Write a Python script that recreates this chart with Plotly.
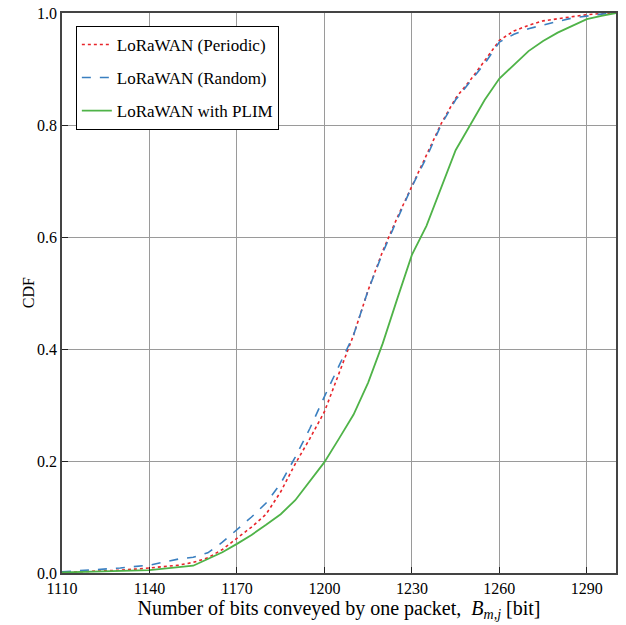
import plotly.graph_objects as go

# bits conveyed by one packet
bits = [1110, 1120, 1130, 1140, 1145, 1150, 1155, 1160, 1165, 1170, 1175, 1180,
        1185, 1190, 1195, 1200, 1205, 1210, 1215, 1220, 1225, 1230, 1235, 1240,
        1245, 1250, 1255, 1260, 1265, 1270, 1275, 1280, 1285, 1290, 1295, 1300]

cdf_periodic = [0.001, 0.003, 0.005, 0.009, 0.011, 0.014, 0.019, 0.027, 0.042, 0.062, 0.082, 0.105,
                0.145, 0.195, 0.24, 0.288, 0.355, 0.425, 0.505, 0.575, 0.635, 0.69, 0.745, 0.802,
                0.848, 0.88, 0.915, 0.951, 0.968, 0.978, 0.986, 0.99, 0.994, 0.997, 0.999, 1.0]

cdf_random = [0.002, 0.005, 0.009, 0.014, 0.02, 0.025, 0.028, 0.036, 0.055, 0.077, 0.1, 0.125,
              0.16, 0.207, 0.258, 0.315, 0.37, 0.425, 0.505, 0.572, 0.632, 0.69, 0.742, 0.8,
              0.845, 0.878, 0.91, 0.948, 0.962, 0.972, 0.979, 0.985, 0.991, 0.995, 0.998, 1.0]

cdf_plim = [0.001, 0.002, 0.003, 0.005, 0.008, 0.011, 0.013, 0.025, 0.037, 0.052, 0.068, 0.086,
            0.105, 0.13, 0.165, 0.198, 0.24, 0.283, 0.34, 0.41, 0.49, 0.568, 0.62, 0.688,
            0.755, 0.8, 0.845, 0.883, 0.908, 0.932, 0.95, 0.965, 0.977, 0.989, 0.995, 1.0]

x_ticks = [1110, 1140, 1170, 1200, 1230, 1260, 1290]
y_ticks = [0.0, 0.2, 0.4, 0.6, 0.8, 1.0]

font = "Liberation Serif"

fig = go.Figure()
fig.add_trace(go.Scatter(x=bits, y=cdf_periodic, mode="lines", name="LoRaWAN (Periodic)",
                         legendgroup="a", line=dict(color="#e8242a", width=1.6, dash="dot")))
fig.add_trace(go.Scatter(x=bits, y=cdf_random, mode="lines", name="LoRaWAN (Random)",
                         legendgroup="b", line=dict(color="#3a7fc0", width=1.6, dash="dash")))
fig.add_trace(go.Scatter(x=bits, y=cdf_plim, mode="lines", name="LoRaWAN with PLIM",
                         legendgroup="c", line=dict(color="#4fb348", width=1.8)))

axis = dict(showgrid=True, gridcolor="#9a9a9a", gridwidth=1, showline=True, linecolor="#444",
            linewidth=1.5, mirror=True, ticks="inside", ticklen=6, tickcolor="#222",
            zeroline=False, automargin=False,
            tickfont=dict(family=font, size=16, color="black"))

fig.update_xaxes(axis, range=[1110, 1300], tickvals=x_ticks,
                 title=dict(text="Number of bits conveyed by one packet,  <i>B</i><sub><i>m,j</i></sub> [bit]",
                            font=dict(family=font, size=20, color="black"), standoff=2))
fig.update_yaxes(axis, range=[0, 1], tickvals=y_ticks, tickformat=".1f")

# y title as annotation so it sits where the reference has it
fig.add_annotation(text="CDF", textangle=-90, xref="paper", yref="paper", x=-0.061, y=0.5,
                   xanchor="center", yanchor="middle", showarrow=False,
                   font=dict(family=font, size=16, color="black"))

fig.update_layout(
    width=626, height=625,
    margin=dict(l=62, r=10, t=13, b=52),
    plot_bgcolor="white", paper_bgcolor="white",
    font=dict(family=font, color="black"),
    legend=dict(x=0.025, y=0.977, xanchor="left", yanchor="top",
                bgcolor="white", bordercolor="black", borderwidth=1,
                font=dict(family=font, size=17, color="black"),
                traceorder="grouped", tracegroupgap=8, itemwidth=30),
)

# drop the page's default body margin so the figure sits at the top-left corner
fig.write_html("out.html", config={"displayModeBar": False},
               post_script="document.body.style.margin = '0';")
